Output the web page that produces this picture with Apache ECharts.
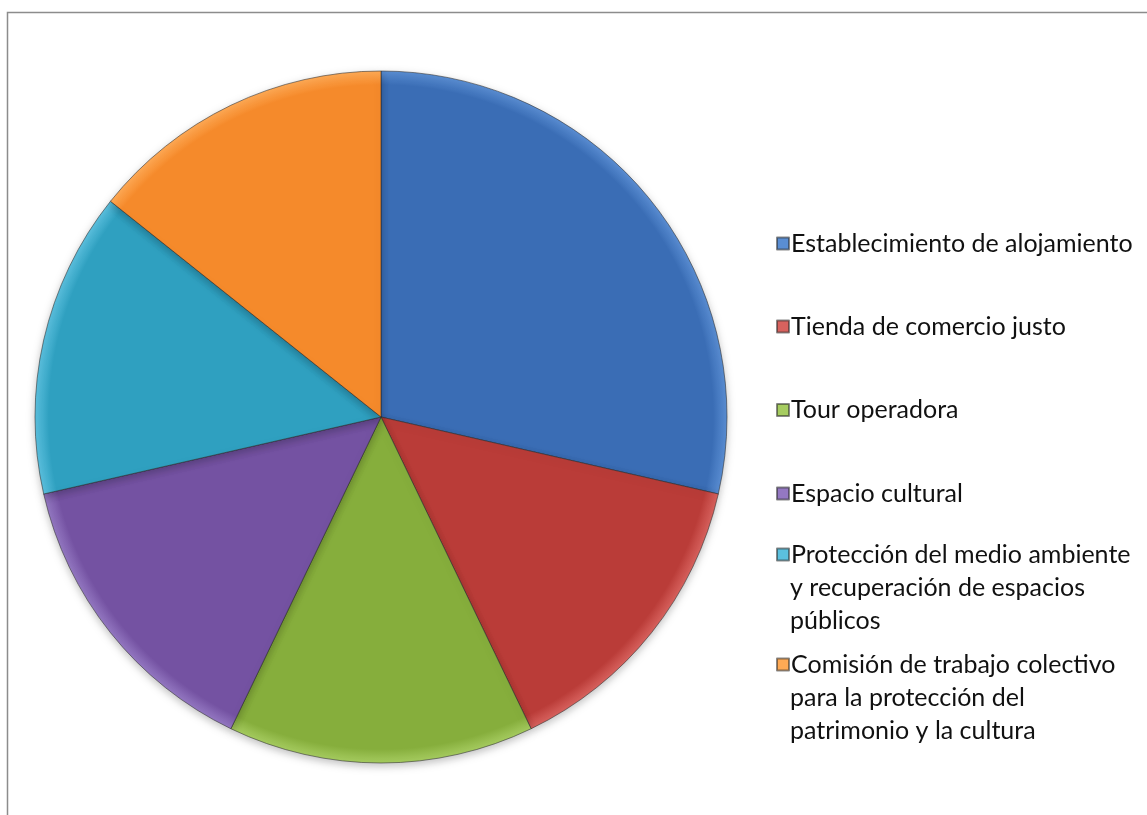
<!DOCTYPE html>
<html>
<head>
<meta charset="utf-8">
<script src="https://cdn.jsdelivr.net/npm/echarts@6/dist/echarts.min.js"></script>
<style>
html,body{margin:0;padding:0;background:#fff;}
#chart{width:1147px;height:815px;}
</style>
</head>
<body>
<div id="chart"></div>
<script>
var categories = [
  'Establecimiento de alojamiento',
  'Tienda de comercio justo',
  'Tour operadora',
  'Espacio cultural',
  'Protección del medio ambiente\ny recuperación de espacios\npúblicos',
  'Comisión de trabajo colectivo\npara la protección del\npatrimonio y la cultura'
];
var values = [2, 1, 1, 1, 1, 1];
var colors = ['#3A6DB5', '#BA3C38', '#86AE3C', '#7452A2', '#2FA0C0', '#F58A2B'];
var rims = ['#5A8ED3', '#D8625E', '#A6CC60', '#9478C2', '#5BC0DE', '#FFAA55'];
var legendCenters = [243.5, 326.5, 410, 493.5, 554.5, 664.5];

var cx = 381, cy = 417, R = 346;
var lineH = 33;
var fontSize = 25;
var textX = 790;

var chart = echarts.init(document.getElementById('chart'));

var legends = categories.map(function (name, i) {
  return {
    show: true,
    orient: 'vertical',
    left: 776,
    top: legendCenters[i] - lineH / 2,
    data: [name],
    icon: 'rect',
    itemWidth: 12,
    itemHeight: 12,
    itemGap: 0,
    selectedMode: false,
    padding: 0,
    formatter: function (n) { return n.split('\n')[0]; },
    textStyle: {
      fontFamily: 'Lato',
      fontSize: fontSize,
      color: '#111',
      lineHeight: lineH,
      padding: [0, 0, 0, -3]
    }
  };
});

var extraLines = [];
categories.forEach(function (name, i) {
  name.split('\n').slice(1).forEach(function (line, k) {
    extraLines.push({
      type: 'text',
      x: textX,
      y: legendCenters[i] + (k + 1) * lineH,
      style: {
        text: line,
        fontFamily: 'Lato',
        fontSize: fontSize,
        fill: '#111',
        verticalAlign: 'middle',
        align: 'left'
      }
    });
  });
});

var data = categories.map(function (name, i) {
  return {
    name: name,
    value: values[i],
    itemStyle: {
      color: {
        type: 'radial', x: cx, y: cy, r: R, global: true,
        colorStops: [
          {offset: 0, color: colors[i]},
          {offset: 0.96, color: colors[i]},
          {offset: 1, color: rims[i]}
        ]
      }
    }
  };
});

chart.setOption({
  animation: false,
  legend: legends,
  graphic: [{
    type: 'rect',
    shape: {x: 7.5, y: 12.5, width: 1200, height: 900},
    style: {fill: 'none', stroke: '#8c8c8c', lineWidth: 1.5},
    z: -10
  }].concat(extraLines),
  series: [{
    type: 'pie',
    center: [cx, cy],
    radius: [0, R],
    startAngle: 90,
    clockwise: true,
    label: {show: false},
    labelLine: {show: false},
    emphasis: {disabled: true},
    itemStyle: {
      borderColor: 'rgba(40,40,40,0.55)',
      borderWidth: 1,
      shadowBlur: 8,
      shadowOffsetY: 3,
      shadowColor: 'rgba(0,0,0,0.25)'
    },
    data: data
  }]
});
</script>
</body>
</html>
